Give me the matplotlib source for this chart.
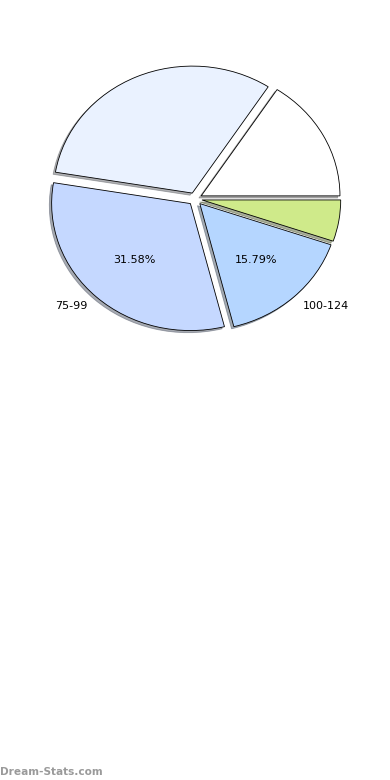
import matplotlib
matplotlib.use("Agg")
import matplotlib.pyplot as plt

categories = ["", "", "75-99", "100-124", ""]
values = [3, 6, 6, 3, 1]
colors = ["#ffffff", "#eaf2ff", "#c5d8ff", "#b5d6ff", "#cfea8a"]
show_pct = [False, False, True, True, False]

fig = plt.figure(figsize=(3.9, 7.8), dpi=100)
ax = fig.add_axes([0.0555, 0.5415, 0.8895, 0.407])

idx = {"i": 0}
def autopct(p):
    i = idx["i"]
    idx["i"] += 1
    return ("%.2f%%" % p) if show_pct[i] else ""

wedges, texts, autotexts = ax.pie(
    values, labels=categories, colors=colors, explode=[0.05] * len(values),
    startangle=0, counterclock=True,
    shadow={"ox": -0.012, "oy": -0.012, "shade": 0.6},
    autopct=autopct,
    wedgeprops=dict(edgecolor="black", linewidth=0.6),
    textprops=dict(fontsize=8, color="black"),
)
ax.set_aspect("auto")
ax.set_xlim(-1.25, 1.25)
ax.set_ylim(-1.25, 1.25)
ax.axis("off")

fig.text(0.0, 0.004, "Dream-Stats.com", fontsize=7.6, color="#9a9a9a",
         fontweight="bold", ha="left", va="bottom")

fig.savefig("out.png", dpi=100)
